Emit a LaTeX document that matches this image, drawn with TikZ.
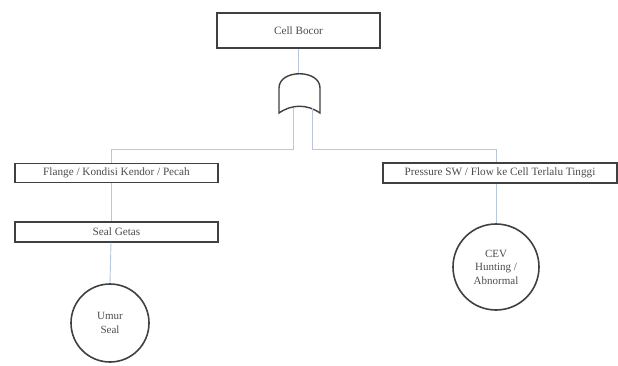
\documentclass[tikz,border=0pt]{standalone}
\usepackage{fontspec}
\setmainfont{Liberation Serif}
\definecolor{linec}{rgb}{0.72,0.78,0.86}
\definecolor{boxc}{rgb}{0.25,0.25,0.25}
\definecolor{txtc}{rgb}{0.3,0.3,0.3}
\begin{document}
\begin{tikzpicture}[x=1pt,y=-1pt,
  evbox/.style={draw=boxc,line width=1.3pt,fill=white,inner sep=0pt,text=txtc,font=\fontsize{11.2}{12}\selectfont},
  basic/.style={circle,draw=boxc,line width=1.6pt,inner sep=0pt,text=txtc,align=center,font=\fontsize{11}{13.5}\selectfont},
  conn/.style={draw=linec,line width=0.9pt}]
\useasboundingbox (0,0) rectangle (618,366);
\node[evbox,minimum width=163pt,minimum height=35pt] (top) at (298.5,30.5) {Cell Bocor};
\node[evbox,minimum width=203pt,minimum height=19pt] (b1) at (116.5,173) {Flange / Kondisi Kendor / Pecah};
\node[evbox,minimum width=203pt,minimum height=20pt] (b2) at (116.5,232) {Seal Getas};
\node[evbox,minimum width=234pt,minimum height=20pt] (b3) at (500,173) {Pressure SW / Flow ke Cell Terlalu Tinggi};
\node[basic,minimum size=78pt] (c1) at (110,323) {Umur\\Seal};
\node[basic,minimum size=86pt] (c2) at (496,267) {CEV\\Hunting /\\Abnormal};
% gate
\coordinate (gtop) at (298.5,73);
\coordinate (gL) at (293,108);
\coordinate (gR) at (312,108);
\coordinate (lx) at (111,149);
\coordinate (rx) at (496,149);
\draw[boxc,line width=1.4pt,fill=white] (279,113) -- (279,88) .. controls (279,69) and (320,69) .. (320,88) -- (320,113) .. controls (307,104) and (292,104) .. cycle;
\draw[conn] (top.south) -- (gtop);
\draw[conn] (gL) |- (lx) -- (lx |- b1.north);
\draw[conn] (gR) |- (rx) -- (rx |- b3.north);
\draw[conn] (lx |- b1.south) -- (lx |- b2.north);
\draw[conn] (lx |- b2.south) -- (c1.north);
\draw[conn] (rx |- b3.south) -- (c2.north);
\end{tikzpicture}
\end{document}
